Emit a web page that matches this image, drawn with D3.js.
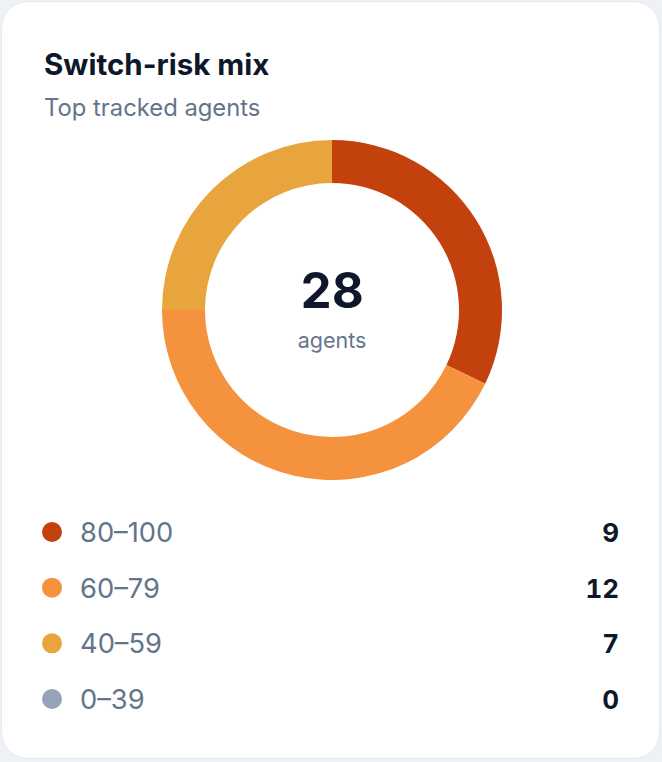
<!DOCTYPE html>
<html lang="en">
<head>
    <meta charset="UTF-8">
    <title>Switch-risk mix</title>
    <script src="https://d3js.org/d3.v7.min.js"></script>
    <style>
        html, body { margin: 0; padding: 0; background: #eef1f5; }
        svg { display: block; font-family: Inter, "Noto Sans", sans-serif; }
        .num { font-variant-numeric: tabular-nums; }
    </style>
</head>
<body>
    <div id="chart"></div>

    <script>
        // Data
        var bands = ["80\u2013100", "60\u201379", "40\u201359", "0\u201339"];
        var counts = [9, 12, 7, 0];
        var colors = ["#c2410c", "#f5923e", "#e8a53e", "#94a3b8"];

        var width = 662, height = 762;

        var svg = d3.select("#chart")
                    .append("svg")
                    .attr("width", width)
                    .attr("height", height);

        // Card
        svg.append("rect")
           .attr("x", 1.5).attr("y", 1.5)
           .attr("width", width - 4).attr("height", height - 5)
           .attr("rx", 26)
           .attr("fill", "#ffffff")
           .attr("stroke", "#e2e8f0");

        // Title and subtitle
        svg.append("text")
           .attr("x", 44).attr("y", 75)
           .attr("font-size", 29.5).attr("font-weight", 700)
           .attr("fill", "#0f172a")
           .text("Switch-risk mix");

        svg.append("text")
           .attr("x", 44).attr("y", 116)
           .attr("font-size", 23.8)
           .attr("fill", "#64748b")
           .text("Top tracked agents");

        // Donut
        var cx = 332, cy = 310;
        var data = bands.map(function(b, i) { return { band: b, count: counts[i], color: colors[i] }; });

        var pie = d3.pie().sort(null).value(function(d) { return d.count; });
        var arc = d3.arc().innerRadius(127).outerRadius(170);

        var g = svg.append("g").attr("transform", "translate(" + cx + "," + cy + ")");

        g.selectAll("path")
         .data(pie(data))
         .enter().append("path")
         .attr("d", arc)
         .attr("fill", function(d) { return d.data.color; });

        var total = d3.sum(counts);

        g.append("text")
         .attr("class", "num")
         .attr("text-anchor", "middle")
         .attr("y", -2)
         .attr("font-size", 49).attr("font-weight", 700)
         .attr("fill", "#0f172a")
         .text(total);

        g.append("text")
         .attr("text-anchor", "middle")
         .attr("y", 38)
         .attr("font-size", 21.5)
         .attr("fill", "#64748b")
         .text("agents");

        // Legend
        var y = d3.scalePoint().domain(bands).range([532, 699]);

        var rows = svg.selectAll(".row")
                      .data(data)
                      .enter().append("g")
                      .attr("class", "row")
                      .attr("transform", function(d) { return "translate(0," + y(d.band) + ")"; });

        rows.append("circle")
            .attr("cx", 52).attr("r", 10)
            .attr("fill", function(d) { return d.color; });

        rows.append("text")
            .attr("x", 80).attr("y", 10)
            .attr("font-size", 27.3)
            .attr("fill", "#64748b")
            .text(function(d) { return d.band; });

        rows.append("text")
            .attr("class", "num")
            .attr("x", 619).attr("y", 10)
            .attr("text-anchor", "end")
            .attr("font-size", 26).attr("font-weight", 700)
            .attr("fill", "#0f172a")
            .text(function(d) { return d.count; });
    </script>
</body>
</html>
